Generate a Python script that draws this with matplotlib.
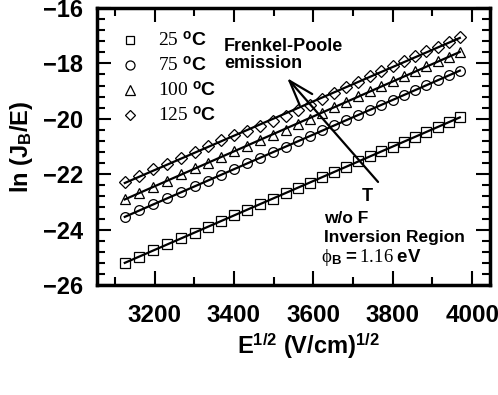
import numpy as np
import matplotlib
matplotlib.use("Agg")
import matplotlib.pyplot as plt
from matplotlib.ticker import MultipleLocator

plt.rcParams['font.family'] = ['Liberation Sans', 'DejaVu Sans']
plt.rcParams['font.weight'] = 'bold'
plt.rcParams['mathtext.fontset'] = 'custom'
plt.rcParams['mathtext.rm'] = 'Liberation Serif:weight=normal'
plt.rcParams['mathtext.it'] = 'Liberation Serif:italic:weight=normal'
plt.rcParams['mathtext.bf'] = 'Liberation Sans:weight=bold'

# Data
e_sqrt = [3125, 3161, 3197, 3232, 3267, 3301, 3335, 3368, 3401, 3434, 3466, 3498,
          3530, 3561, 3592, 3623, 3653, 3683, 3713, 3742, 3771, 3800, 3829, 3857,
          3885, 3913, 3941, 3969]
y_25 = [-25.20, -24.98, -24.75, -24.53, -24.32, -24.11, -23.89, -23.69, -23.48, -23.28,
        -23.08, -22.88, -22.68, -22.49, -22.30, -22.10, -21.92, -21.73, -21.54, -21.36,
        -21.18, -21.00, -20.82, -20.65, -20.47, -20.30, -20.12, -19.95]
y_75 = [-23.54, -23.31, -23.09, -22.87, -22.65, -22.44, -22.23, -22.02, -21.81, -21.61,
        -21.41, -21.21, -21.01, -20.81, -20.62, -20.42, -20.24, -20.05, -19.86, -19.68,
        -19.50, -19.32, -19.14, -18.96, -18.79, -18.61, -18.43, -18.26]
y_100 = [-22.90, -22.67, -22.45, -22.23, -22.00, -21.79, -21.58, -21.37, -21.16, -20.97,
         -20.78, -20.59, -20.39, -20.19, -19.99, -19.78, -19.58, -19.38, -19.19, -19.01,
         -18.83, -18.65, -18.46, -18.29, -18.11, -17.93, -17.76, -17.58]
y_125 = [-22.28, -22.06, -21.83, -21.62, -21.40, -21.19, -20.98, -20.78, -20.60, -20.45,
         -20.27, -20.08, -19.89, -19.70, -19.50, -19.29, -19.08, -18.87, -18.66, -18.47,
         -18.28, -18.10, -17.92, -17.74, -17.57, -17.40, -17.22, -17.05]
temps = ['25', '75', '100', '125']
markers = ['s', 'o', '^', 'D']
xticks = [3200, 3400, 3600, 3800, 4000]
yticks = [-26, -24, -22, -20, -18, -16]

fig = plt.figure(figsize=(4.98, 3.95), dpi=100)
ax = fig.add_axes([97/498, 1-285/395, 393/498, 277/395])

x = np.array(e_sqrt)
series = [y_25, y_75, y_100, y_125]
msizes = [6.5, 7, 7, 6]
for ys, m, ms in zip(series, markers, msizes):
    ys = np.array(ys)
    ax.plot(x, ys, linestyle='none', marker=m, markersize=ms, markerfacecolor='white',
            markeredgecolor='black', markeredgewidth=0.9, zorder=3)
    p = np.polyfit(x, ys, 1)
    xl = np.array([x[0], x[-1]])
    ax.plot(xl, np.polyval(p, xl), color='black', lw=1.6, zorder=4)

ax.set_xlim(3055, 4045)
ax.set_ylim(-26, -16)
ax.set_xticks(xticks)
ax.set_yticks(yticks)
ax.xaxis.set_minor_locator(MultipleLocator(100))
ax.yaxis.set_minor_locator(MultipleLocator(0.4))
ax.tick_params(which='both', direction='in', top=True, right=True, width=1.5)
ax.tick_params(which='major', length=10)
ax.tick_params(which='minor', length=6)
ax.tick_params(axis='x', which='major', pad=14, labelsize=17.5)
ax.tick_params(axis='y', which='major', pad=10, labelsize=17)
for lab in ax.get_xticklabels() + ax.get_yticklabels():
    lab.set_fontweight('bold')
for s in ax.spines.values():
    s.set_linewidth(2.5)

ax.set_ylabel(r'ln (J$_{\mathbf{B}}$/E)', fontsize=17, fontweight='bold', labelpad=6)
ax.set_xlabel(r'E$^{\mathbf{1/2}}$ (V/cm)$^{\mathbf{1/2}}$', fontsize=17, fontweight='bold', labelpad=2)
ax.xaxis.set_label_coords(0.537, -0.17)

# legend (manual)
leg_y = [-17.16, -18.06, -18.97, -19.87]
for t, m, yy, ms in zip(temps, markers, leg_y, msizes):
    ax.plot([3138], [yy], linestyle='none', marker=m, markersize=ms - 0.5, markerfacecolor='white',
            markeredgecolor='black', markeredgewidth=0.9)
    ax.text(3209, yy, r'$\mathrm{%s}\ ^{\mathbf{o}}\mathbf{C}$' % t, fontsize=14,
            va='center', ha='left')

ax.text(3375, -17.70, 'Frenkel-Poole\nemission', fontsize=13, fontweight='bold',
        va='center', ha='left', linespacing=1.05)
ax.annotate('', xy=(3534, -18.53), xytext=(3763, -22.28),
            arrowprops=dict(arrowstyle='->,head_length=0.9,head_width=0.3',
                            lw=1.6, color='black', mutation_scale=20, shrinkA=0, shrinkB=0))
ax.text(3735, -22.8, 'T', fontsize=13, fontweight='bold', ha='center', va='center')
ax.text(3627, -23.6, 'w/o F', fontsize=12.5, fontweight='bold', ha='left', va='center')
ax.text(3627, -24.28, 'Inversion Region', fontsize=12.5, fontweight='bold', ha='left', va='center')
ax.text(3620, -25.0, r'$\mathrm{\phi}_{\mathbf{B}}\,\mathbf{=}\mathrm{1.16}\ \mathbf{eV}$',
        fontsize=13.5, ha='left', va='center')

fig.savefig('out.png', dpi=100)
